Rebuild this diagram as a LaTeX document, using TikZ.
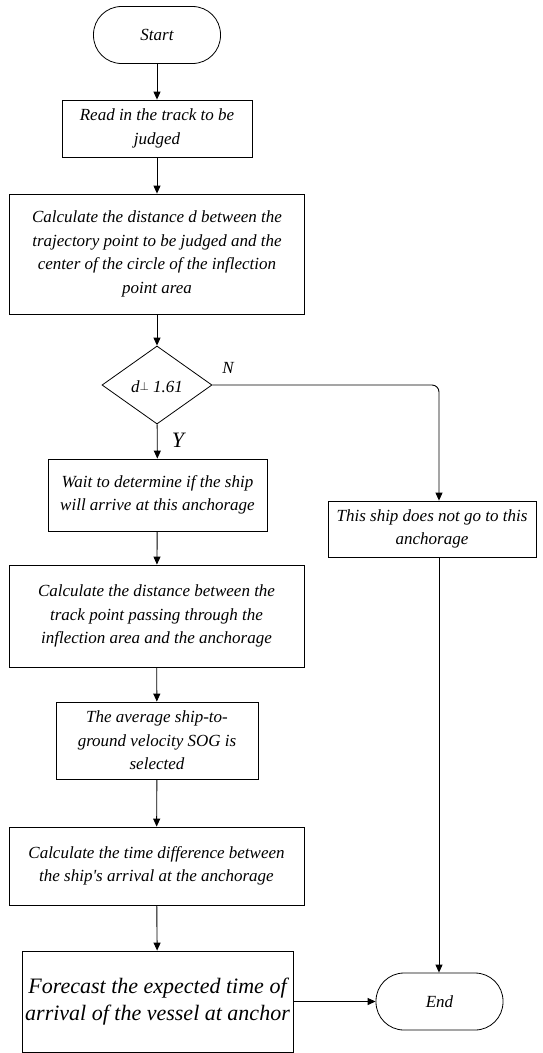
\documentclass[tikz,border=0pt]{standalone}
\usepackage{fontspec}
\setmainfont{Liberation Serif}[Ligatures=TeXOff]
\usetikzlibrary{shapes.geometric,arrows.meta}
\begin{document}
\begin{tikzpicture}[x=1pt,y=-1pt,
  every node/.style={font=\fontsize{17}{23.5}\selectfont\itshape, align=center, inner sep=0pt, line width=0.8pt},
  box/.style={draw, rectangle},
  term/.style={draw, rectangle, rounded corners=28pt},
  dec/.style={draw, diamond},
  arr/.style={line width=0.9pt, -{Triangle[length=8pt,width=7pt]}},
  lbl/.style={font=\fontsize{17}{20}\selectfont\itshape}
]
\useasboundingbox (0,0) rectangle (543,1053);
\node[term, minimum width=127pt, minimum height=57pt] (start) at (157,35) {Start};
\node[box, minimum width=190pt, minimum height=57pt] (read) at (157,128.5) {Read in the track to be\\judged};
\node[box, minimum width=295pt, minimum height=120pt] (calc) at (157,254) {Calculate the distance d between the\\trajectory point to be judged and the\\center of the circle of the inflection\\point area};
\node[dec, minimum width=110pt, minimum height=78pt] (dec) at (157,385) {};
\node at (157,387) (dect) {d\raisebox{0.3ex}{\fontsize{13}{13}\selectfont$\perp$} 1.61};
\node[box, minimum width=219pt, minimum height=72pt] (wait) at (157.5,495) {Wait to determine if the ship\\will arrive at this anchorage};
\node[box, minimum width=295pt, minimum height=102pt] (calc2) at (156.5,616) {Calculate the distance between the\\track point passing through the\\inflection area and the anchorage};
\node[box, minimum width=202pt, minimum height=77pt] (avg) at (157,740.5) {The average ship-to-\\ground velocity SOG is\\selected};
\node[box, minimum width=295pt, minimum height=78pt] (time) at (156.5,866) {Calculate the time difference between\\the ship's arrival at the anchorage};
\node[box, minimum width=271pt, minimum height=101pt, font=\fontsize{22}{27}\selectfont\itshape] (fore) at (157.5,1001.5) {Forecast the expected time of\\arrival of the vessel at anchor};
\node[box, minimum width=208pt, minimum height=56pt] (nogo) at (432,529) {This ship does not go to this\\anchorage};
\node[term, minimum width=127pt, minimum height=57pt] (end) at (439.5,1001.5) {End};
\node[lbl] (nlab) at (228,368) {N};
\node[lbl, font=\fontsize{22}{24}\selectfont\itshape] (ylab) at (178,440) {Y};
\coordinate (c1) at (439,385);
\draw[arr] (start) -- (read);
\draw[arr] (read) -- (calc);
\draw[arr] (calc) -- (dec);
\draw[arr] (dec) -- (wait);
\draw[arr] (wait) -- (calc2);
\draw[arr] (calc2) -- (avg);
\draw[arr] (avg) -- (time);
\draw[arr] (time) -- (fore);
\draw[arr] (fore) -- (end);
\draw[arr, rounded corners=7pt] (dec.east) -- (c1) -- (c1 |- nogo.north);
\draw[arr] (c1 |- nogo.south) -- (c1 |- end.north);
\end{tikzpicture}
\end{document}
